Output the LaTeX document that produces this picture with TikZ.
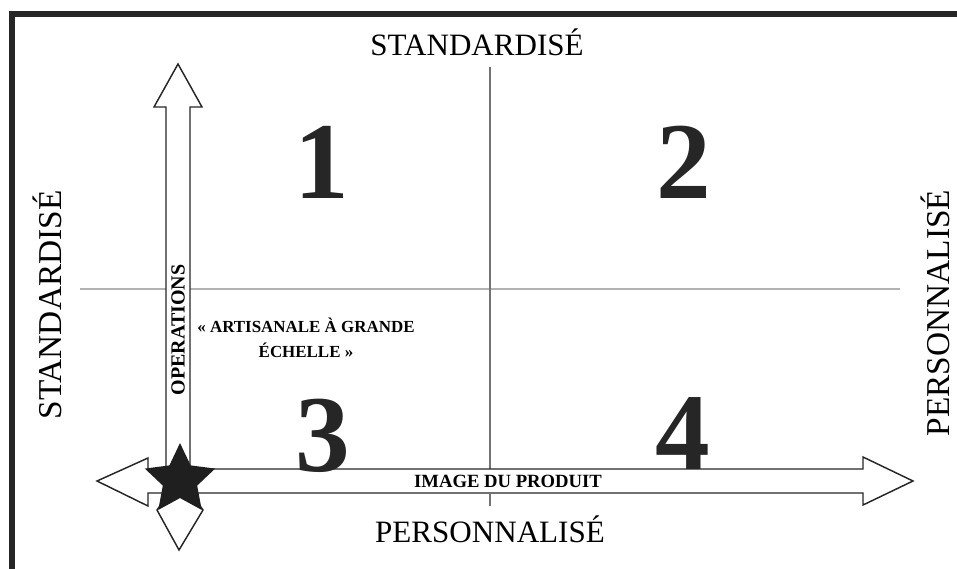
\documentclass[tikz,border=0pt]{standalone}
\usepackage{fontspec}
\setmainfont{Liberation Serif}
\usetikzlibrary{shapes.geometric}
\tikzset{
  frameline/.style={line width=4pt, black!85},
  arrowbox/.style={draw=black!85, fill=white, line width=1.1pt, line join=miter},
  guide/.style={line width=0.9pt},
  bigtxt/.style={inner sep=0pt, font=\fontsize{23.3}{23.3}\selectfont},
  sidetxt/.style={inner sep=0pt, font=\fontsize{25}{25}\selectfont},
  numtxt/.style={inner sep=0pt, text=black!85, font=\fontsize{82}{82}\selectfont\bfseries},
  labtxt/.style={inner sep=0pt, font=\fontsize{14}{16}\selectfont\bfseries},
  smalltxt/.style={inner sep=0pt, align=center, font=\fontsize{12.7}{18.8}\selectfont\bfseries},
}
\begin{document}
\begin{tikzpicture}[x=0.75pt,y=-0.75pt]
\useasboundingbox (0,0) rectangle (957,568);
\clip (0,0) rectangle (957,568);
% frame (only top and left visible)
\draw[frameline] (12,600) -- (12,14) -- (1000,14);
% guide lines
\draw[guide, black!30] (80,289) -- (900,289);
\draw[guide, black!55] (490,67) -- (490,506);
% vertical arrow (OPERATIONS), up head and shaft
\draw[arrowbox] (178,64) -- (202,107) -- (190,107) -- (190,475)
  -- (166,475) -- (166,107) -- (154,107) -- cycle;
% lower head of the vertical arrow
\draw[arrowbox] (180,478) -- (203,510) -- (179,550) -- (157,510) -- cycle;
% horizontal double arrow (IMAGE DU PRODUIT)
\draw[arrowbox] (97,481) -- (148,458) -- (148,469) -- (863,469) -- (863,457)
  -- (913,481) -- (863,505) -- (863,493) -- (148,493) -- (148,506) -- cycle;
\draw[guide, black!55] (490,493) -- (490,506);
% star
\node[star, star points=5, star point ratio=2.05, fill=black!88, draw=none,
  minimum size=55.5pt, inner sep=0pt] (origin) at (180,480) {};
% axis titles
\node[bigtxt, anchor=base] (top) at (477,55) {STANDARDISÉ};
\node[bigtxt, anchor=base] (bottom) at (490,542) {PERSONNALISÉ};
\node[sidetxt, anchor=base, rotate=90] (left) at (61,305) {STANDARDISÉ};
\node[sidetxt, anchor=base, rotate=90] (right) at (949,313) {PERSONNALISÉ};
% quadrant numbers
\node[numtxt] (q1) at (322,162) {1};
\node[numtxt] (q2) at (684,162) {2};
\node[numtxt] (q3) at (323,436) {3};
\node[numtxt] (q4) at (683,434) {4};
% labels
\node[labtxt, rotate=90, font=\fontsize{15}{16}\selectfont\bfseries] (ops) at (178,330) {OPERATIONS};
\node[labtxt] (img) at (508,481) {IMAGE DU PRODUIT};
\node[smalltxt] (art) at (306,338) {« ARTISANALE À GRANDE\\ÉCHELLE »};
\end{tikzpicture}
\end{document}
